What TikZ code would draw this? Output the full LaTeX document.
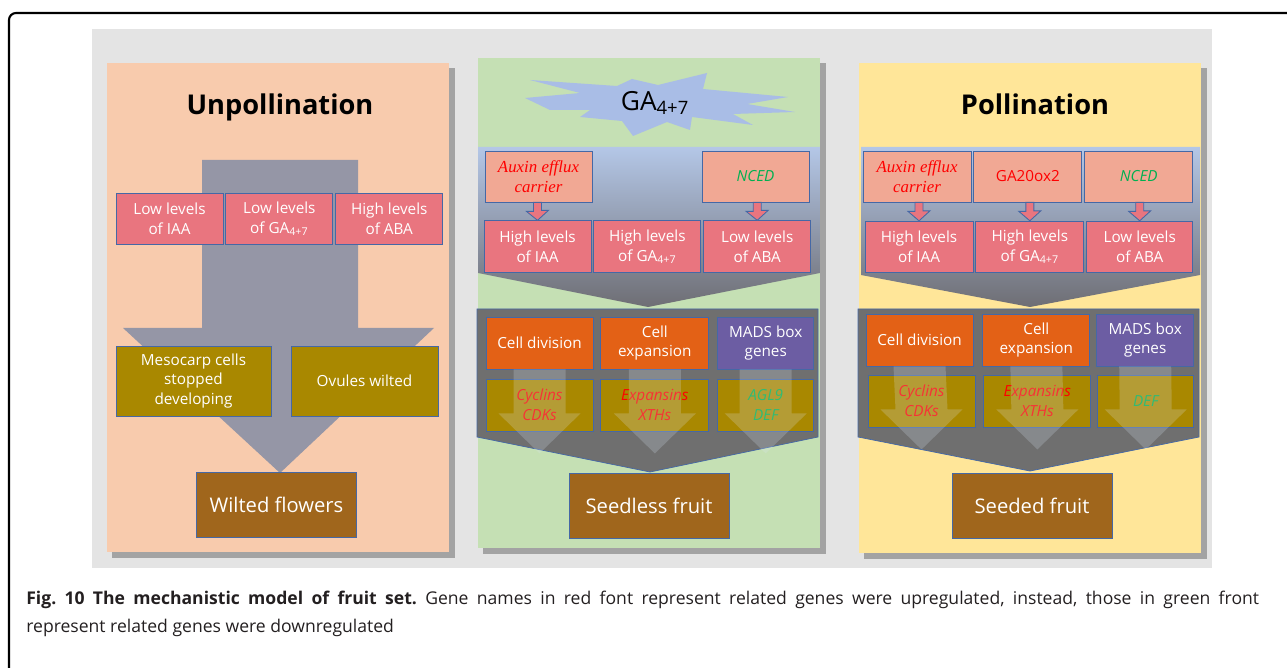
\documentclass[tikz,border=0pt]{standalone}
\usepackage{fontspec}
\setsansfont{Open Sans}
\newfontfamily\serifit{Liberation Serif}
\usetikzlibrary{positioning, calc}
\frenchspacing

\definecolor{bggray}{HTML}{E4E4E4}
\definecolor{panelshade}{HTML}{A3A3A3}
\definecolor{peachpanel}{HTML}{F8CBAD}
\definecolor{leafpanel}{HTML}{C5E0B4}
\definecolor{strawpanel}{HTML}{FFE699}
\definecolor{bigarrow}{HTML}{9596A6}
\definecolor{boxblue}{HTML}{4568A6}
\definecolor{levelpink}{HTML}{E9757F}
\definecolor{genesalmon}{HTML}{F1A894}
\definecolor{cellolive}{HTML}{A98800}
\definecolor{fruitbrown}{HTML}{A0661C}
\definecolor{cellorange}{HTML}{E36116}
\definecolor{madspurple}{HTML}{6C5DA3}
\definecolor{chevtop}{HTML}{B4C7E7}
\definecolor{chevbot}{HTML}{6E6E74}
\definecolor{regiongray}{HTML}{6F6F6F}
\definecolor{glossblue}{HTML}{DCE6F5}
\definecolor{burstblue}{HTML}{A9BDE6}
\definecolor{upred}{HTML}{FF0000}
\definecolor{downgreen}{HTML}{00B050}
\definecolor{captext}{HTML}{231F20}

\begin{document}
\begin{tikzpicture}[
    x=0.02cm, y=-0.02cm,
    cellbox/.style={draw=boxblue, line width=0.5pt, text=white,
      align=center, inner sep=1pt,
      font=\sffamily\fontsize{8.7}{11.3}\selectfont},
    levelbox/.style={cellbox, fill=levelpink, minimum width=2.14cm,
      minimum height=1.03cm},
    genebox/.style={cellbox, fill=genesalmon, minimum width=2.14cm,
      minimum height=1.02cm},
    processbox/.style={cellbox, fill=cellorange, minimum height=1.04cm},
    fatebox/.style={cellbox, fill=cellolive, minimum height=1.4cm},
    targetbox/.style={cellbox, fill=cellolive, minimum height=1.04cm,
      font=\sffamily\itshape\fontsize{8.7}{11.3}\selectfont},
    fruitbox/.style={cellbox, fill=fruitbrown, minimum width=3.2cm,
      minimum height=1.3cm, font=\sffamily\fontsize{11.5}{14}\selectfont},
    titletext/.style={font=\sffamily\bfseries\fontsize{15.5}{18}\selectfont},
    carriertext/.style={text=upred,
      font=\serifit\itshape\fontsize{9.6}{11}\selectfont},
    upgene/.style={text=upred},
    downgene/.style={text=downgreen},
    levelarrow/.style={draw=boxblue, fill=levelpink, line width=0.5pt},
    gloss/.style={fill=glossblue, opacity=0.22}
  ]
  \useasboundingbox (0,0) rectangle (1287,668);
  \draw[line width=1.2pt, rounded corners=4pt] (9,668) -- (9,13) -- (1287,13);

  \fill[bggray] (92,29) rectangle (1212,568);
  \fill[panelshade] (112,68) rectangle (455,558);
  \fill[peachpanel] (107,63) rectangle (449,552);
  \fill[panelshade] (483,63) rectangle (826,554);
  \fill[leafpanel] (478,58) rectangle (820,548);
  \fill[panelshade] (864,68) rectangle (1207,559);
  \fill[strawpanel] (859,63) rectangle (1201,553);

  % unpollination
  \fill[bigarrow] (202,160) -- (358,160) -- (358,328) -- (434,328)
    -- (280,473) -- (123,328) -- (202,328) -- cycle;
  \node[titletext] (untitle) at (280,107) {Unpollination};
  \node[levelbox] (uiaa) at (169.5,219) {Low levels\\of IAA};
  \node[levelbox, right=0.04cm of uiaa] (uga) {Low levels\\of GA\textsubscript{4+7}};
  \node[levelbox, right=0.04cm of uga] (uaba) {High levels\\of ABA};
  \node[fatebox, minimum width=3.1cm] (meso) at (193.5,381)
    {Mesocarp cells\\stopped\\developing};
  \node[fatebox, minimum width=2.94cm] (ovule) at (364.5,381) {Ovules wilted};
  \node[fruitbox] (wilt) at (276.5,505) {Wilted flowers};

  % seedless fruit
  \fill[burstblue] (525,98) -- (580,93) -- (530,80) -- (617,86) -- (632,79)
    -- (658,85) -- (707,73) -- (703,89) -- (788,97) -- (747,104)
    -- (795,112) -- (733,114) -- (753,125) -- (692,117) -- (690,130)
    -- (667,122) -- (633,136) -- (622,121) -- (580,117) -- (590,110)
    -- (550,110) -- cycle;
  \node[font=\sffamily\fontsize{15}{18}\selectfont] (burst) at (655,103)
    {GA\textsubscript{4+7}};
  \shade[top color=chevtop, bottom color=chevbot] (478,147) -- (820,147)
    -- (820,273) -- (648,307) -- (478,273) -- cycle;
  \node[genebox, carriertext] (saux) at (538.5,176.5) {Auxin efflux\\carrier};
  \node[genebox, downgene, font=\sffamily\itshape\fontsize{8.7}{11.3}\selectfont]
    (snced) at (755.5,176.5) {NCED};
  \node[levelbox] (shiaa) at (537.5,246.5) {High levels\\of IAA};
  \node[levelbox, right=0.04cm of shiaa] (shga) {High levels\\of GA\textsubscript{4+7}};
  \node[levelbox, right=0.04cm of shga] (slaba) {Low levels\\of ABA};
  \filldraw[draw=boxblue, fill=regiongray] (477,309) -- (818,309) -- (818,437)
    -- (650,472) -- (477,437) -- cycle;
  \node[processbox, minimum width=2.14cm] (sdiv) at (539.5,343) {Cell division};
  \node[processbox, minimum width=2.16cm, right=0.14cm of sdiv] (sexp)
    {Cell\\expansion};
  \node[processbox, fill=madspurple, minimum width=1.92cm, right=0.16cm of sexp]
    (smads) {MADS box\\genes};
  \node[targetbox, upgene, minimum width=2.14cm] (scyc) at (539.5,405)
    {Cyclins\\CDKs};
  \node[targetbox, upgene, minimum width=2.16cm, right=0.14cm of scyc] (sxth)
    {Expansins\\XTHs};
  \node[targetbox, downgene, minimum width=1.92cm, right=0.16cm of sxth] (sagl)
    {AGL9\\DEF};
  \node[fruitbox] (seedless) at (649,505.5) {Seedless fruit};

  % seeded fruit
  \node[titletext] (potitle) at (1035,104) {Pollination};
  \shade[top color=chevtop, bottom color=chevbot] (861,147) -- (1200,147)
    -- (1200,275) -- (1030,307) -- (861,275) -- cycle;
  \node[genebox, carriertext, minimum width=2.16cm] (paux) at (917,176.5)
    {Auxin efflux\\carrier};
  \node[genebox, upgene, minimum width=2.16cm, right=0.04cm of paux] (pga)
    {GA20ox2};
  \node[genebox, downgene, minimum width=2.16cm, right=0.04cm of pga,
    font=\sffamily\itshape\fontsize{8.7}{11.3}\selectfont] (pnced) {NCED};
  \node[levelbox, minimum width=2.16cm] (phiaa) at (919,247) {High levels\\of IAA};
  \node[levelbox, minimum width=2.16cm, right=0.04cm of phiaa] (phga)
    {High levels\\of GA\textsubscript{4+7}};
  \node[levelbox, minimum width=2.12cm, right=0.04cm of phga] (plaba)
    {Low levels\\of ABA};
  \filldraw[draw=boxblue, fill=regiongray] (858,309) -- (1199,309) -- (1199,437)
    -- (1030,471) -- (858,437) -- cycle;
  \node[processbox, minimum width=2.14cm] (pdiv) at (919.5,340) {Cell division};
  \node[processbox, minimum width=2.14cm, right=0.18cm of pdiv] (pexp)
    {Cell\\expansion};
  \node[processbox, fill=madspurple, minimum width=1.94cm, right=0.12cm of pexp]
    (pmads) {MADS box\\genes};
  \node[targetbox, upgene, minimum width=2.14cm] (pcyc) at (921.5,401)
    {Cyclins\\CDKs};
  \node[targetbox, upgene, minimum width=2.14cm, right=0.16cm of pcyc] (pxth)
    {Expansins\\XTHs};
  \node[targetbox, downgene, minimum width=1.92cm, right=0.12cm of pxth] (pdef)
    {DEF};
  \node[fruitbox] (seeded) at (1032,505.5) {Seeded fruit};

  \foreach \a/\b in {saux/shiaa, snced/slaba, paux/phiaa, pga/phga, pnced/plaba}
    \draw[levelarrow] ($(\a.south -| \b.north)+(-4,0)$) -- ++(0,9) -- ++(-7,0)
      -- (\b.north) -- ++(11,-10) -- ++(-7,0)
      -- ($(\a.south -| \b.north)+(4,0)$) -- cycle;

  \foreach \o/\g in {sdiv/scyc, sexp/sxth, smads/sagl, pdiv/pcyc, pexp/pxth, pmads/pdef}
    \fill[gloss] ($(\o.south)+(-26,0)$) -- ($(\g.south)+(-26,-18)$) -- ++(-15,0)
      -- ($(\g.south)+(0,22)$) -- ($(\g.south)+(41,-18)$) -- ++(-15,0)
      -- ($(\o.south)+(26,0)$) -- cycle;

  \node[anchor=north west, text width=24.66cm, align=justify, inner sep=0pt,
    text=captext, font=\sffamily\fontsize{10}{15.9}\selectfont] (caption)
    at (26,591)
    {\textbf{Fig. 10 The mechanistic model of fruit set.} Gene names in red
     font represent related genes were upregulated, instead, those in green
     front\linebreak represent related genes were downregulated};
\end{tikzpicture}
\end{document}
